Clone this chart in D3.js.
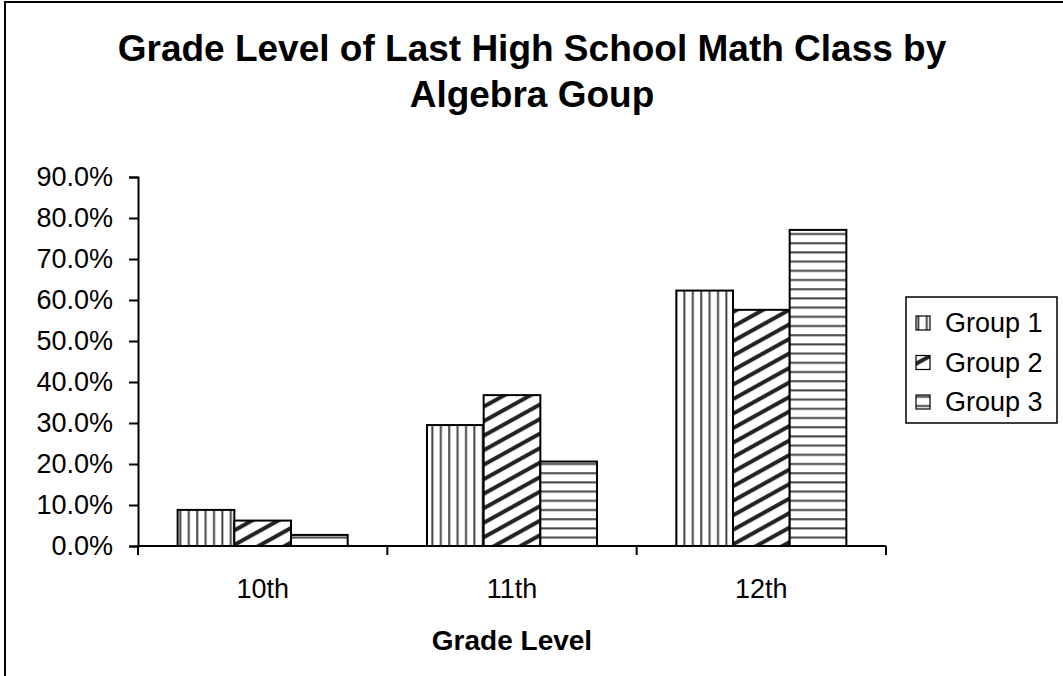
<!DOCTYPE html>
<html lang="en">
  <head>
    <meta charset="UTF-8" />
    <title>Grade Level of Last High School Math Class</title>
    <script src="https://cdn.jsdelivr.net/npm/d3@7"></script>
    <style>
      body {
        margin: 0;
        background: #fff;
      }
      text {
        font-family: "Liberation Sans", Arial, sans-serif;
        fill: #000;
      }
    </style>
  </head>
  <body>
    <svg id="chart" width="1063" height="676"></svg>

    <script>
      // data
      let categories = ["10th", "11th", "12th"];
      let groups = ["Group 1", "Group 2", "Group 3"];
      let group1 = [8.8, 29.5, 62.3];
      let group2 = [6.2, 36.8, 57.6];
      let group3 = [2.7, 20.6, 77.1];
      let yTicks = [0, 10, 20, 30, 40, 50, 60, 70, 80, 90];
      let titleLines = ["Grade Level of Last High School Math Class by", "Algebra Goup"];
      let xLabel = "Grade Level";

      let series = [group1, group2, group3];
      let patternIds = ["pVert", "pDiag", "pHorz"];

      let svg = d3.select("#chart");

      // patterns
      let defs = svg.append("defs");
      let pv = defs
        .append("pattern")
        .attr("id", "pVert")
        .attr("patternUnits", "userSpaceOnUse")
        .attr("width", 8.4)
        .attr("height", 10);
      pv.append("rect").attr("width", 8.4).attr("height", 10).attr("fill", "#fff");
      pv.append("rect").attr("x", 3).attr("width", 2).attr("height", 10).attr("fill", "#444");

      let pd = defs
        .append("pattern")
        .attr("id", "pDiag")
        .attr("patternUnits", "userSpaceOnUse")
        .attr("width", 20)
        .attr("height", 12.7)
        .attr("patternTransform", "rotate(-29)");
      pd.append("rect").attr("width", 20).attr("height", 12.7).attr("fill", "#fff");
      pd.append("rect").attr("y", 4).attr("width", 20).attr("height", 4).attr("fill", "#222");

      let ph = defs
        .append("pattern")
        .attr("id", "pHorz")
        .attr("patternUnits", "userSpaceOnUse")
        .attr("width", 10)
        .attr("height", 9.2);
      ph.append("rect").attr("width", 10).attr("height", 9.2).attr("fill", "#fff");
      ph.append("rect").attr("y", 3).attr("width", 10).attr("height", 2).attr("fill", "#444");

      // outer frame (right and bottom edges fall outside the picture)
      svg
        .append("rect")
        .attr("x", 5)
        .attr("y", 2)
        .attr("width", 1200)
        .attr("height", 800)
        .attr("fill", "none")
        .attr("stroke", "#000")
        .attr("stroke-width", 2);

      // title
      svg
        .append("text")
        .attr("x", 532)
        .attr("y", 61)
        .attr("text-anchor", "middle")
        .style("font-size", "37px")
        .style("font-weight", "bold")
        .selectAll("tspan")
        .data(titleLines)
        .join("tspan")
        .attr("x", 532)
        .attr("dy", (d, i) => (i == 0 ? 0 : 46))
        .text((d) => d);

      // scales
      let plotLeft = 138,
        plotRight = 886,
        plotTop = 177,
        plotBottom = 546;
      let x0 = d3.scaleBand().domain(categories).range([plotLeft, plotRight]).padding(0);
      let groupW = x0.bandwidth() * 0.682;
      let x1 = d3.scaleBand().domain(groups).range([0, groupW]).padding(0);
      let y = d3.scaleLinear().domain([0, 90]).range([plotBottom, plotTop]);

      // y axis
      let yAxis = svg
        .append("g")
        .attr("transform", "translate(" + plotLeft + ",0)")
        .call(
          d3
            .axisLeft(y)
            .tickValues(yTicks)
            .tickSize(9)
            .tickPadding(16)
            .tickFormat((d) => d.toFixed(1) + "%")
        );
      yAxis.selectAll("text").style("font-size", "27px").attr("font-family", null);
      yAxis.selectAll("line, path").attr("stroke", "#000").attr("stroke-width", 2);

      // bars
      categories.forEach(function (c, ci) {
        let gx = x0(c) + (x0.bandwidth() - groupW) / 2;
        svg
          .append("g")
          .selectAll("rect")
          .data(series.map((s, si) => ({ g: groups[si], v: s[ci], p: patternIds[si] })))
          .join("rect")
          .attr("x", (d) => gx + x1(d.g))
          .attr("y", (d) => y(d.v))
          .attr("width", x1.bandwidth())
          .attr("height", (d) => y(0) - y(d.v))
          .attr("fill", (d) => "url(#" + d.p + ")")
          .attr("stroke", "#000")
          .attr("stroke-width", 2);
      });

      // x axis
      let xAxis = svg
        .append("g")
        .attr("transform", "translate(0," + plotBottom + ")")
        .call(d3.axisBottom(x0).tickSize(0).tickPadding(33));
      xAxis.selectAll("text").style("font-size", "27px").attr("font-family", null);
      xAxis
        .select("path")
        .attr("stroke", "#000")
        .attr("stroke-width", 2)
        .attr("d", "M" + plotLeft + ",0H" + plotRight);
      let edges = categories.map((c) => x0(c)).concat([x0(categories[2]) + x0.bandwidth()]);
      xAxis
        .selectAll(".edge")
        .data(edges)
        .join("line")
        .attr("class", "edge")
        .attr("x1", (d) => d)
        .attr("x2", (d) => d)
        .attr("y1", 0)
        .attr("y2", 9)
        .attr("stroke", "#000")
        .attr("stroke-width", 2);

      // x axis title
      svg
        .append("text")
        .attr("x", (plotLeft + plotRight) / 2)
        .attr("y", 650)
        .attr("text-anchor", "middle")
        .style("font-size", "28px")
        .style("font-weight", "bold")
        .text(xLabel);

      // legend
      let legend = svg.append("g").attr("transform", "translate(906,297)");
      legend
        .append("rect")
        .attr("width", 151)
        .attr("height", 126)
        .attr("fill", "#fff")
        .attr("stroke", "#000")
        .attr("stroke-width", 1.5);
      let items = legend
        .selectAll(".item")
        .data(groups)
        .join("g")
        .attr("class", "item")
        .attr("transform", (d, i) => "translate(0," + (26 + i * 39.5) + ")");
      items
        .append("rect")
        .attr("x", 10)
        .attr("y", -7)
        .attr("width", 14)
        .attr("height", 14)
        .attr("fill", (d, i) => "url(#" + patternIds[i] + ")")
        .attr("stroke", "#000")
        .attr("stroke-width", 1.2);
      items
        .append("text")
        .attr("x", 39)
        .attr("dy", "0.35em")
        .style("font-size", "27px")
        .text((d) => d);
    </script>
  </body>
</html>
